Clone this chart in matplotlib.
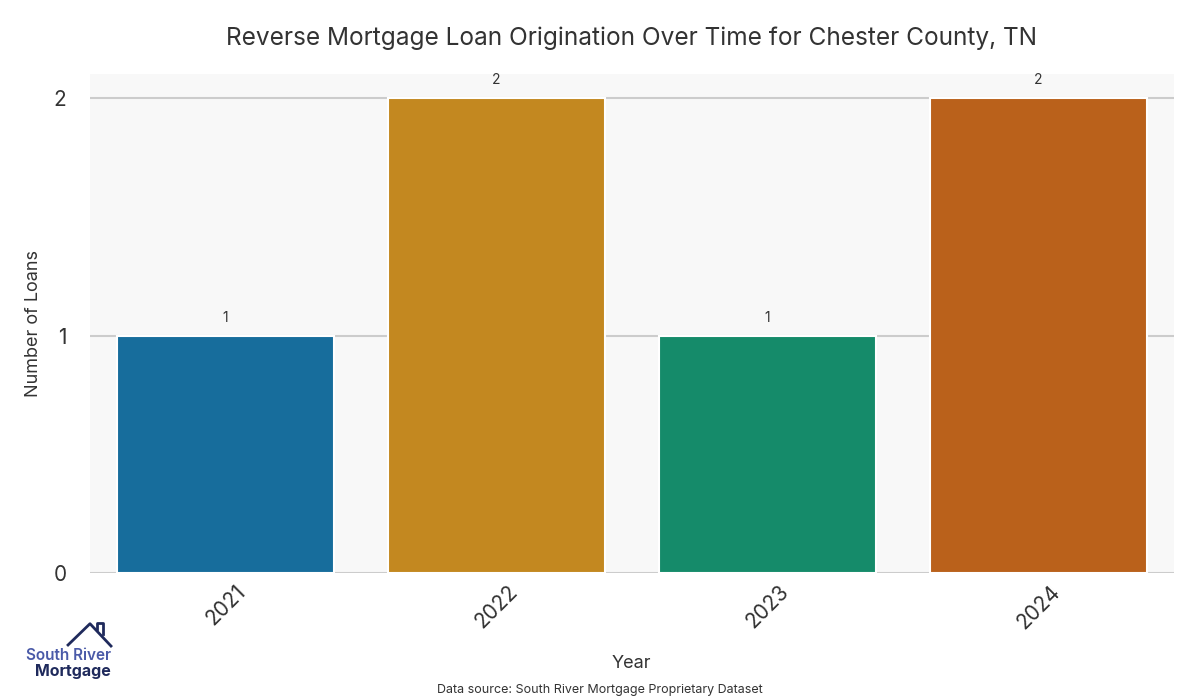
import matplotlib.pyplot as plt
import seaborn as sns
from matplotlib.lines import Line2D

years = ["2021", "2022", "2023", "2024"]
loans = [1, 2, 1, 2]

title = "Reverse Mortgage Loan Origination Over Time for Chester County, TN"
source = "Data source: South River Mortgage Proprietary Dataset"

plt.rcParams['font.family'] = ['Inter', 'DejaVu Sans']

colors = [sns.desaturate(c, 0.75) for c in sns.color_palette("colorblind", 4)]

fig = plt.figure(figsize=(12, 7), dpi=100)
ax = fig.add_axes([0.075, 0.181, 0.903, 0.713])
ax.set_facecolor("#f8f8f8")

bars = ax.bar(range(len(years)), loans, width=0.8, color=colors,
              edgecolor="white", linewidth=1.5, zorder=3)
for b, v in zip(bars, loans):
    ax.text(b.get_x() + b.get_width() / 2, v + 0.045, str(v),
            ha="center", va="bottom", fontsize=10, color="#333333")

ax.set_xlim(-0.5, 3.5)
ax.set_ylim(0, 2.1)
ax.set_yticks([0, 1, 2])
ax.set_xticks(range(len(years)))
ax.set_xticklabels(years, rotation=45, fontsize=15, color="#333333")
ax.tick_params(axis="y", labelsize=15, colors="#333333", length=0, pad=17)
ax.tick_params(axis="x", length=0, pad=6)
ax.grid(axis="y", color="#cccccc", linewidth=1.5, zorder=0)
for s in ax.spines.values():
    s.set_visible(False)

ax.set_xlabel("Year", fontsize=13, color="#333333", labelpad=16)
ax.set_ylabel("Number of Loans", fontsize=13, color="#333333", labelpad=8)
fig.text(0.526, 0.945, title, ha="center", va="center", fontsize=17.6, color="#333333")
fig.text(0.5, 0.015, source, ha="center", va="center", fontsize=9, color="#333333")

# logo
fig.text(0.0925, 0.064, "South River", fontsize=11, color="#4a5aa8", weight="semibold",
         ha="right", va="center")
fig.text(0.0925, 0.041, "Mortgage", fontsize=11.5, color="#1f2a5c", weight="bold",
         ha="right", va="center")
fig.add_artist(Line2D([0.0567, 0.075, 0.0925], [0.0786, 0.109, 0.0771],
                      color="#1f2a5c", linewidth=2, transform=fig.transFigure))
fig.add_artist(Line2D([0.081, 0.081, 0.086, 0.086], [0.102, 0.110, 0.110, 0.094],
                      color="#1f2a5c", linewidth=2, transform=fig.transFigure))

fig.savefig("out.png", dpi=100)
